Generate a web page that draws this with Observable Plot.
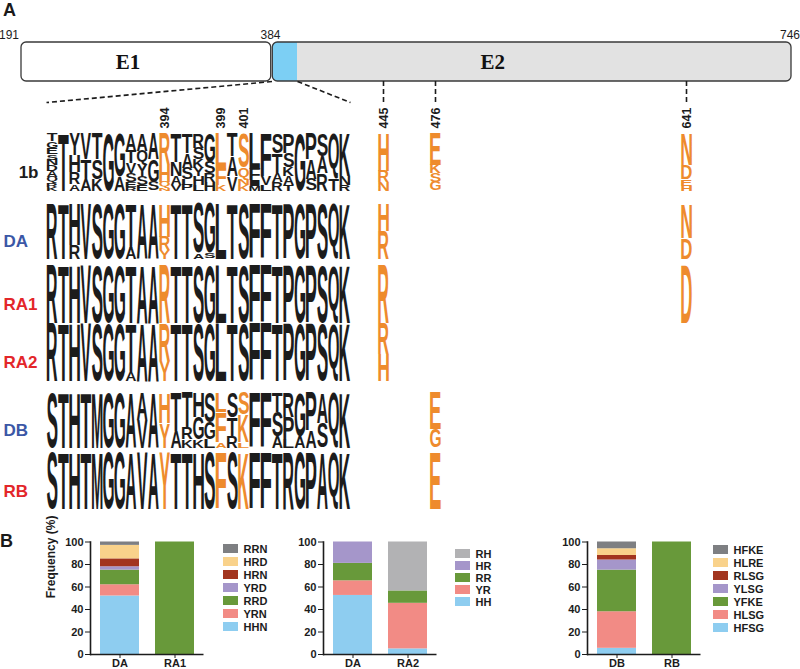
<!DOCTYPE html>
<html><head><meta charset="utf-8">
<script src="https://cdn.jsdelivr.net/npm/d3@7"></script>
<script src="https://cdn.jsdelivr.net/npm/@observablehq/plot@0.6"></script>
<style>
body{margin:0;background:#fff;}
#fig{position:relative;width:800px;height:669px;overflow:hidden;font-family:"Liberation Sans",Arial,sans-serif;background:#fff;}
#fig > div{position:absolute;}
.plabel{font-weight:bold;font-size:18px;line-height:18px;color:#1a1a1a;}
</style></head><body><div id="fig"></div>
<script>
// ---------------- DATA ----------------
// Panel A: gene schematic
const geneDomains = ["E1", "E2"];
const geneStarts = [191, 384];
const geneEnds = [384, 746];
const hvrStart = 384, hvrEnd = 411;           // HVR1 window (27 residues) shown below
const boundaryLabels = [191, 384, 746];
const markedSites = [394, 399, 401];
const extraSites = [445, 476, 641];

// Sequence logos: one string per column, letters top -> bottom, "Lf" = letter with frequency f
const rowNames = ["1b", "DA", "RA1", "RA2", "DB", "RB"];
const rowKind = ["ref", "D", "R", "R", "D", "R"];
const rowMarked = [[394, 399, 401], [394], [394], [394], [394, 399, 401], [394, 399, 401]];

const hvr_1b = ["T.14 G.12 E.1 S.1 N.1 D.1 A.1 Q.1 R.07 K.07", "T", "Y.38 H.3 R.2 A.12", "V.45 T.35 A.2",
  "T.45 S.35 K.2", "G", "G.75 A.25", "A.3 T.22 V.18 S.15 E.08 R.07", "A.3 Q.25 Y.2 S.15 E.1", "A.45 G.4 S.15",
  "R.55 H.3 Q.1 N.05", "T.5 N.25 A.15 V.1", "T.35 A.25 S.2 L.1 P.1", "R.25 S.2 K.15 Y.15 H.15 L.1",
  "G.5 S.2 R.15 H.15", "L.6 F.3 K.1", "T.4 A.35 V.25", "S.6 Q.2 N.1 K.1", "L.62 F.2 I.1 M.08",
  "F.75 V.15 L.1", "S.35 T.35 A.15 R.15", "P.35 S.25 K.15 A.15 T.1", "G", "P.45 A.35 S.2",
  "S.4 A.3 R.3", "Q.8 T.2", "K.75 N.15 R.1"];
const hvr_DA = ["R", "T", "H.75 R.25", "V", "S", "G", "G", "T.8 A.2", "A", "A", "H.6 R.25 Y.15", "T", "T",
  "S.9 A.1", "G.9 S.1", "L", "T", "S", "F", "F", "T", "P", "G", "P", "S", "Q", "K"];
const hvr_RA1 = ["R", "T", "H", "V", "S", "G", "G", "T", "A", "A", "R", "T", "T", "S", "G", "L", "T", "S",
  "F", "F", "T", "P", "G", "P", "S", "Q", "K"];
const hvr_RA2 = ["R", "T", "H", "V", "S", "G", "G", "T.85 A.15", "A", "A", "R.65 Y.35", "T", "T", "S", "G",
  "L", "T", "S", "F", "F", "T", "P", "G", "P", "S", "Q", "K"];
const hvr_DB = ["S", "T", "H", "T", "M", "G", "G", "A", "A.5 V.5", "A", "H.55 Y.45", "T.7 A.3",
  "T.65 R.2 K.15", "H.45 G.4 K.15", "S.55 G.3 L.15", "L.35 F.55 A.1", "S.45 T.35 R.2", "S.4 K.5 L.1",
  "F", "F", "T.35 S.45 A.2", "R.45 P.4 L.15", "G.8 A.2", "P.7 A.3", "A.55 S.45", "Q", "K"];
const hvr_RB = ["S", "T", "H", "T", "M", "G", "G", "A", "V", "A", "Y", "T", "T", "H", "S", "F", "S", "K",
  "F", "F", "T", "R", "G", "P", "A", "Q", "K"];
// columns at sites 445, 476, 641
const extra_1b = ["H.65 R.2 N.15", "E.55 K.15 S.15 G.15", "N.55 D.25 E.12 H.08"];
const extra_DA = ["H.5 R.5", "", "N.62 D.38"];
const extra_RA1 = ["R", "", "D"];
const extra_RA2 = ["R.53 H.47", "", ""];
const extra_DB = ["", "E.67 G.33", ""];
const extra_RB = ["", "E", ""];

// Panel B: frequency (%) of haplotypes, stacked bottom -> top
const b1Samples = ["DA", "RA1"];
const b1Types = ["HHN", "YRN", "RRD", "YRD", "HRN", "HRD", "RRN"];
const b1DA = [52, 10, 13, 3, 7, 12, 3];
const b1RA1 = [0, 0, 100, 0, 0, 0, 0];

const b2Samples = ["DA", "RA2"];
const b2Types = ["HH", "YR", "RR", "HR", "RH"];
const b2DA = [52.5, 13, 15.5, 19, 0];
const b2RA2 = [5, 40.5, 11, 0, 43.5];

const b3Samples = ["DB", "RB"];
const b3Types = ["HFSG", "HLSG", "YFKE", "YLSG", "RLSG", "HLRE", "HFKE"];
const b3DB = [5.5, 32.5, 37, 9, 4, 6, 6];
const b3RB = [0, 0, 100, 0, 0, 0, 0];

// ---------------- STYLE / LAYOUT ----------------
const INK = "#1c1c1c", ORANGE = "#ee8b2d", STROKE = "#3a3a3a", BLUE = "#7ccff4";
const kindColor = {ref: "#1c1c1c", D: "#3b57a6", R: "#e3262a"};
const C = {blue: "#8ecdf0", salmon: "#f28b85", green: "#68993a", lav: "#a596ca", red: "#a2351f", yel: "#f9d28b", gray: "#7e7f82", lgray: "#b2b2b4"};
const b1Colors = [C.blue, C.salmon, C.green, C.lav, C.red, C.yel, C.gray];
const b2Colors = [C.blue, C.salmon, C.green, C.lav, C.lgray];
const b3Colors = [C.blue, C.salmon, C.green, C.lav, C.red, C.yel, C.gray];
const FONT = "'Liberation Sans', Arial, sans-serif";

// schematic (not-to-scale) layout of panel A
const schematicX = d3.scaleLinear().domain([191, 384, 411, 445.5, 476.5, 641.5, 746]).range([21, 271.5, 297, 383, 435, 686, 791]);
const colX = d3.scaleLinear().domain([0, 27]).range([46, 350]);            // HVR1 logo columns
const barY = d3.scaleLinear().domain([0, 1]).range([42, 81]);              // gene bar
const ROW_H = 0.9;
const rowY = d3.scaleLinear()
  .domain([0, 0.9, 1, 1.9, 2, 2.9, 3, 3.9, 4, 4.9, 5, 5.9])
  .range([133, 190, 203, 258, 265, 322, 323, 380, 392, 447, 452, 508]);    // logo rows
const siteX = s => (s >= hvrStart && s < hvrEnd) ? colX(s - hvrStart + 0.5) : schematicX(s + 0.5);

const fig = document.getElementById("fig");
function place(node, left, top) {
  const d = document.createElement("div");
  d.style.left = left + "px"; d.style.top = top + "px";
  d.appendChild(node); fig.appendChild(d); return d;
}

// ---------------- PANEL A ----------------
const geneData = geneDomains.map((name, i) => ({
  name, x1: schematicX(geneStarts[i]), x2: schematicX(geneEnds[i]),
  lx: schematicX(geneStarts[i]) + 0.425 * (schematicX(geneEnds[i]) - schematicX(geneStarts[i]))
}));
const hvrData = [{x1: schematicX(hvrStart), x2: schematicX(hvrEnd)}];
const zoomLinks = [
  {x1: schematicX(hvrStart), x2: colX(0)},
  {x1: schematicX(hvrEnd), x2: colX(27)}
];
const letters = [];
function addStack(spec, r, site, hl) {
  let cum = 0;
  for (const tok of (spec ? spec.split(" ") : [])) {
    const f = tok.length > 1 ? +tok.slice(1) : 1;
    letters.push({x: siteX(site), y1: rowY(r + cum * ROW_H), y2: rowY(r + (cum + f) * ROW_H), letter: tok[0], color: hl ? ORANGE : INK});
    cum += f;
  }
}
const hvrRows = [hvr_1b, hvr_DA, hvr_RA1, hvr_RA2, hvr_DB, hvr_RB];
const extraRows = [extra_1b, extra_DA, extra_RA1, extra_RA2, extra_DB, extra_RB];
hvrRows.forEach((cols, r) => {
  cols.forEach((spec, i) => addStack(spec, r, hvrStart + i, rowMarked[r].includes(hvrStart + i)));
  extraRows[r].forEach((spec, k) => addStack(spec, r, extraSites[k], true));
});
const rowIdx = rowNames.map((_, i) => i);

const panelA = Plot.plot({
  width: 800, height: 520, margin: 0,
  style: "background: transparent; overflow: visible; font-family: " + FONT + ";",
  x: {domain: [0, 800], range: [0, 800], axis: null},
  y: {domain: [0, 520], range: [0, 520], axis: null},
  color: {type: "identity"},
  marks: [
    // logo letters (first text mark: stretched below)
    Plot.text(letters, {x: "x", y: "y1", text: "letter", fill: "color", textAnchor: "start", lineAnchor: "bottom",
      fontSize: 100, fontWeight: "bold", fontFamily: "Liberation Sans"}),
    // gene bar
    Plot.rect([geneData[0]], {x1: "x1", x2: "x2", y1: barY(0), y2: barY(1), fill: "white", stroke: STROKE, strokeWidth: 1.3, rx: 5, insetRight: 0.8}),
    Plot.rect([geneData[1]], {x1: "x1", x2: "x2", y1: barY(0), y2: barY(1), fill: "#e2e2e2", rx: 5, insetLeft: 0.8}),
    Plot.rect(hvrData, {x1: "x1", x2: "x2", y1: barY(0), y2: barY(1), fill: BLUE, rx: 5, insetLeft: 0.8}),
    Plot.rect(hvrData, {x1: d => (d.x1 + d.x2) / 2, x2: "x2", y1: barY(0), y2: barY(1), fill: BLUE}),
    Plot.rect([geneData[1]], {x1: "x1", x2: "x2", y1: barY(0), y2: barY(1), fill: "none", stroke: STROKE, strokeWidth: 1.3, rx: 5, insetLeft: 0.8}),
    Plot.text(geneData, {x: "lx", y: barY(0.5), text: "name", fontFamily: "'Liberation Serif', 'Times New Roman', serif", fontWeight: "bold", fontSize: 21, fill: "#111"}),
    Plot.text(boundaryLabels.slice(0, 1), {x: d => schematicX(d), y: barY(0), dy: -4, dx: -2.5, lineAnchor: "bottom", textAnchor: "end", text: d => String(d), fontSize: 12, fill: INK}),
    Plot.text(boundaryLabels.slice(1), {x: d => schematicX(d), y: barY(0), dy: -4, dx: -1.5, lineAnchor: "bottom", textAnchor: "middle", text: d => String(d), fontSize: 12, fill: INK}),
    // dashed connectors
    Plot.ruleX(extraSites, {x: d => siteX(d), y1: barY(1), y2: barY(1.56), stroke: INK, strokeWidth: 1.6, strokeDasharray: "5,3"}),
    Plot.link(zoomLinks, {x1: "x1", y1: barY(1), x2: "x2", y2: barY(1.54), stroke: INK, strokeWidth: 1.6, strokeDasharray: "5,3"}),
    // site numbers
    Plot.text([...markedSites, ...extraSites], {x: d => siteX(d), y: rowY(-0.08), text: d => String(d), rotate: -90,
      textAnchor: "start", lineAnchor: "middle", fontWeight: "bold", fontSize: 12.5, fill: INK}),
    // row labels
    Plot.text(rowIdx.filter(r => rowKind[r] === "ref"), {frameAnchor: "left", y: r => rowY(r + 0.62), text: r => rowNames[r],
      fill: r => kindColor[rowKind[r]], dx: 38, textAnchor: "end", fontWeight: "bold", fontSize: 17}),
    Plot.text(rowIdx.filter(r => rowKind[r] !== "ref"), {frameAnchor: "left", y: r => rowY(r + 0.62), text: r => rowNames[r],
      fill: r => kindColor[rowKind[r]], dx: 3, textAnchor: "start", fontWeight: "bold", fontSize: 17})
  ]
});
place(panelA, 0, 0);

// stretch each letter to fill its logo cell (cell geometry from the plot's scales)
(function stretchLetters() {
  const ctx = document.createElement("canvas").getContext("2d");
  ctx.font = 'bold 100px "Liberation Sans"';
  const cache = new Map();
  const met = ch => {
    if (!cache.has(ch)) {
      const m = ctx.measureText(ch);
      cache.set(ch, {l: m.actualBoundingBoxLeft, r: m.actualBoundingBoxRight, a: m.actualBoundingBoxAscent, d: m.actualBoundingBoxDescent});
    }
    return cache.get(ch);
  };
  const dx = panelA.scale("x"), dy = panelA.scale("y");
  const xs = d3.scaleLinear().domain(dx.domain).range(dx.range);
  const ys = d3.scaleLinear().domain(dy.domain).range(dy.range);
  const w = (xs(colX(1)) - xs(colX(0))) * 0.94;
  const group = panelA.querySelectorAll('g[aria-label="text"]')[0];
  group.querySelectorAll("text").forEach((el, i) => {
    const d = letters[i];
    const yt = ys(d.y1), h = ys(d.y2) - yt;
    if (h < 0.6) { el.remove(); return; }
    const m = met(d.letter);
    const sx = w / (m.l + m.r), sy = h / (m.a + m.d);
    el.removeAttribute("y");
    el.setAttribute("transform", `translate(${xs(d.x) - w / 2},${yt}) scale(${sx},${sy}) translate(${m.l},${m.a})`);
  });
})();

// ---------------- PANEL B: stacked bars ----------------
function stackedChart(samples, types, valueRows, colors, yLabel) {
  const data = [];
  samples.forEach((s, si) => types.forEach((t, ti) => {
    const v = valueRows[si][ti];
    if (v > 0) data.push({sample: s, type: t, value: v});
  }));
  const marks = [
    Plot.barY(data, Plot.stackY({order: types}, {x: "sample", y: "value", fill: "type"})),
    Plot.ruleY([0], {stroke: INK, strokeWidth: 1.6}),
    Plot.frame({anchor: "left", stroke: INK, strokeWidth: 1.6})
  ];
  if (yLabel) marks.push(Plot.text([yLabel], {frameAnchor: "left", rotate: -90, dx: -39, text: d => d, fontWeight: "bold", fontSize: 12, fill: INK}));
  return Plot.plot({
    width: 205, height: 139, marginLeft: 90, marginRight: 1.5, marginTop: 11.5, marginBottom: 15,
    style: "background: transparent; overflow: visible; font-family: " + FONT + "; font-size: 11px; font-weight: bold; color: " + INK + ";",
    x: {domain: samples, paddingInner: 0.3, paddingOuter: 0.18, tickSize: 4, tickPadding: 1, label: null},
    y: {domain: [0, 100], ticks: 5, tickSize: 5, tickPadding: 2, label: null},
    color: {domain: types, range: colors},
    marks
  });
}
function legendPlot(types, colors, range) {
  const order = types.slice().reverse();
  return Plot.plot({
    width: 75, height: 110, margin: 0,
    style: "background: transparent; overflow: visible; font-family: " + FONT + ";",
    x: {domain: ["swatch"], range: [0, 15], padding: 0, axis: null},
    y: {domain: order, range, paddingInner: 0.27, paddingOuter: 0.135, axis: null},
    color: {domain: types, range: colors},
    marks: [
      Plot.cell(order, {x: () => "swatch", y: d => d, fill: d => d}),
      Plot.text(order, {x: () => "swatch", y: d => d, text: d => d, dx: 12.5, textAnchor: "start", fontWeight: "bold", fontSize: 11, fill: INK})
    ]
  });
}
place(stackedChart(b1Samples, b1Types, [b1DA, b1RA1], b1Colors, "Frequency (%)"), 0, 530);
place(stackedChart(b2Samples, b2Types, [b2DA, b2RA2], b2Colors, null), 233, 530);
place(stackedChart(b3Samples, b3Types, [b3DB, b3RB], b3Colors, null), 497, 530);
place(legendPlot(b1Types, b1Colors, [11.4, 103.6]), 223, 530);
place(legendPlot(b2Types, b2Colors, [15.2, 80]), 455, 530);
place(legendPlot(b3Types, b3Colors, [13.5, 104.5]), 713, 530);

// panel letters
const A = document.createElement("span"); A.className = "plabel"; A.textContent = "A"; place(A, 3, 1);
const B = document.createElement("span"); B.className = "plabel"; B.textContent = "B"; place(B, 0, 532);
</script></body></html>
